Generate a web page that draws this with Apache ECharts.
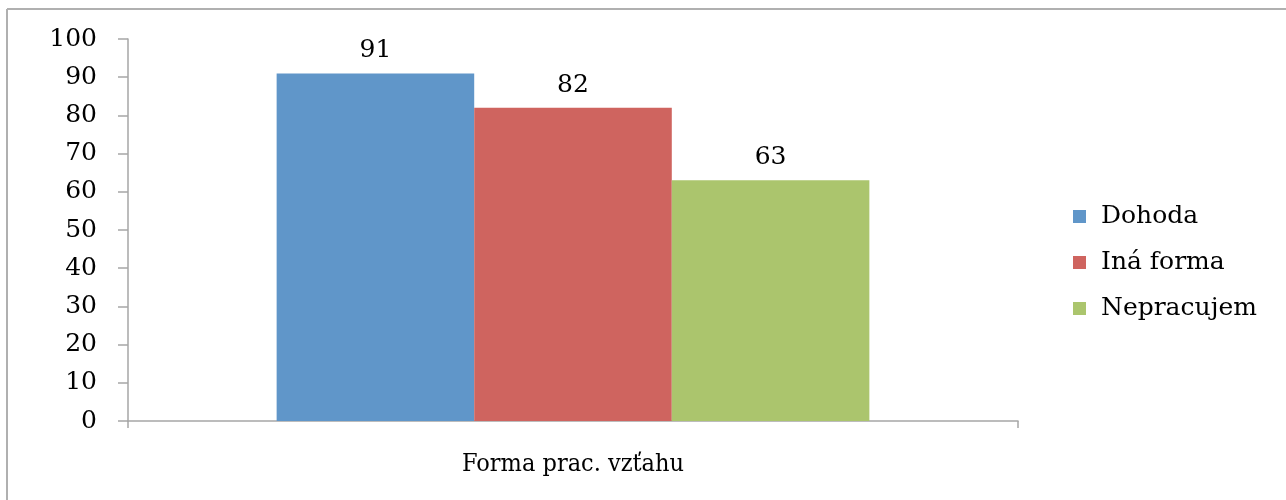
<!DOCTYPE html>
<html>
<head>
<meta charset="utf-8">
<script src="https://cdn.jsdelivr.net/npm/echarts@6/dist/echarts.min.js"></script>
<style>
html,body{margin:0;padding:0;background:#fff;overflow:hidden;}
#chart{width:1286px;height:500px;}
</style>
</head>
<body>
<div id="chart"></div>
<script>
const categories = ['Forma prac. vzťahu'];
const seriesNames = ['Dohoda', 'Iná forma', 'Nepracujem'];
const dohoda = [91];
const inaForma = [82];
const nepracujem = [63];
const yTicks = [0, 10, 20, 30, 40, 50, 60, 70, 80, 90, 100];

const colors = ['#6096c9', '#cf645f', '#abc56d'];
const serif = '"DejaVu Serif", "Liberation Serif", serif';

const chart = echarts.init(document.getElementById('chart'), null, {renderer: 'canvas'});
const values = [dohoda, inaForma, nepracujem];
chart.setOption({
  animation: false,
  backgroundColor: '#ffffff',
  graphic: [
    {type: 'line', shape: {x1: 7, y1: 9, x2: 1286, y2: 9},
     style: {stroke: '#b0b0b0', lineWidth: 2}, silent: true},
    {type: 'line', shape: {x1: 7, y1: 9, x2: 7, y2: 500},
     style: {stroke: '#b0b0b0', lineWidth: 2}, silent: true}
  ],
  grid: {left: 128, top: 39, right: 268, bottom: 79, containLabel: false},
  legend: {
    orient: 'vertical',
    left: 1068,
    top: 199,
    itemWidth: 13,
    itemHeight: 13,
    itemGap: 21,
    icon: 'rect',
    data: seriesNames,
    textStyle: {fontFamily: serif, fontSize: 25, color: '#000', padding: [0, 0, 0, 10]}
  },
  xAxis: {
    type: 'category',
    data: categories,
    axisLine: {lineStyle: {color: '#a6a6a6', width: 1.5}},
    axisTick: {show: true, length: 7, lineStyle: {color: '#a6a6a6', width: 1.5}},
    axisLabel: {margin: 31, fontFamily: '"DejaVu Serif Condensed", "DejaVu Serif", serif', fontSize: 25, color: '#000'}
  },
  yAxis: {
    type: 'value',
    min: yTicks[0],
    max: yTicks[yTicks.length - 1],
    interval: 10,
    splitLine: {show: false},
    axisLine: {show: true, lineStyle: {color: '#a6a6a6', width: 1.5}},
    axisTick: {show: true, length: 10, lineStyle: {color: '#a6a6a6', width: 1.5}},
    axisLabel: {margin: 31, fontFamily: serif, fontSize: 25, color: '#000'}
  },
  series: seriesNames.map((name, i) => ({
    name: name,
    type: 'bar',
    data: values[i],
    barGap: '0%',
    barCategoryGap: '33.4%',
    itemStyle: {color: colors[i]},
    label: {
      show: true,
      position: 'top',
      distance: 10,
      fontFamily: serif,
      fontSize: 25,
      color: '#000'
    }
  }))
});
</script>
</body>
</html>
